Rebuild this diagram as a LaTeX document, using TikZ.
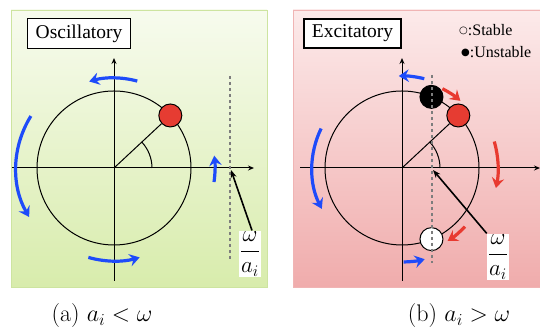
\RequirePackage{fix-cm}
\documentclass[tikz,border=0pt]{standalone}
\usepackage{amsmath}
\usepackage{fontspec}
\newfontfamily\tnr{Liberation Serif}
\newfontfamily\symf{DejaVu Sans}
\usetikzlibrary{arrows.meta}
\definecolor{flowblue}{RGB}{30,75,250}
\definecolor{flowred}{RGB}{232,58,48}
\definecolor{dotred}{RGB}{230,60,50}
\definecolor{dashgray}{RGB}{125,125,125}
\definecolor{greentop}{RGB}{247,251,238}
\definecolor{greenbot}{RGB}{216,236,172}
\definecolor{greenline}{RGB}{205,228,160}
\definecolor{pinktop}{RGB}{252,234,234}
\definecolor{pinkbot}{RGB}{240,172,172}
\definecolor{pinkline}{RGB}{240,180,180}
\tikzset{
  axis/.style = {line width=1pt, -{Stealth[length=6pt,width=5pt]}},
  flow/.style = {line width=3.2pt, -{Stealth[length=10pt,width=12.5pt,inset=3.5pt]}},
  pointer/.style = {line width=1.6pt, -{Stealth[length=8pt,width=6pt]}},
  dashline/.style = {dashgray, dashed, line width=1.5pt},
  dot/.style = {circle, draw, line width=1pt, minimum size=23pt, inner sep=0pt},
  titlebox/.style = {draw, line width=1.5pt, fill=white, inner xsep=8pt, inner ysep=6pt,
    font=\tnr\fontsize{19.5}{22}\selectfont},
  legend/.style = {anchor=west, inner sep=0pt, font=\tnr\fontsize{16}{18}\selectfont},
  fraclabel/.style = {fill=white, inner sep=1pt, font=\fontsize{23}{27}\selectfont},
  caption/.style = {font=\fontsize{24}{28}\selectfont}
}
% circle of radius 77 with axes round a centre
\newcommand{\phase}[3]{
\draw[line width=1pt] (#1) circle [radius=77pt];
\draw[axis] ([xshift=-#2pt]#1) -- ([xshift=#3pt]#1);
\draw[axis] ([yshift=-113pt]#1) -- ([yshift=110pt]#1);
\draw[line width=1pt] ([shift={(0:38pt)}]#1) arc [start angle=0, end angle=43, radius=38pt];
}
% curved arrow round a centre: colour, centre, from, to, radius
\newcommand{\flowarc}[5]{
\draw[flow, #1] ([shift={(#3:#5pt)}]#2) arc [start angle=#3, end angle=#4, radius=#5pt];
}
\newcommand{\stmark}[1]{\raisebox{1.5pt}{\symf\fontsize{10}{12}\selectfont #1}}

\begin{document}
\begin{tikzpicture}[x=1pt, y=1pt]
\useasboundingbox (0,0) rectangle (540,336);

\shadedraw[top color=greentop, bottom color=greenbot, draw=greenline] (11,49) rectangle (267,326);
\shadedraw[top color=pinktop, bottom color=pinkbot, draw=pinkline] (293,49) rectangle (549,326);

\coordinate (cl) at (114,168);
\coordinate (cr) at (402,168);

%% (a) oscillatory
\phase{cl}{102}{140}
\node[dot, fill=dotred] (rl) at ([shift={(43:77pt)}]cl) {};
\draw[line width=1pt] (cl) -- (rl);
\draw[dashline] (230,260) -- (230,76);
\coordinate (xl) at (231,166);

\flowarc{flowblue}{cl}{75}{106}{90}
\flowarc{flowblue}{cl}{148}{210}{98}
\flowarc{flowblue}{cl}{254}{286}{93}
\flowarc{flowblue}{cl}{-8}{7}{101}

\node[titlebox] (tl) at (79,302.5) {Oscillatory};
\node[fraclabel] (wl) at (250,82) {$\dfrac{\omega}{a_i}$};
\draw[pointer] ([xshift=2pt]wl.north) -- (xl);

%% (b) excitatory
\phase{cr}{102}{138}
\node[dot, fill=dotred] (rr) at ([shift={(43:77pt)}]cr) {};
\draw[line width=1pt] (cr) -- (rr);
\node[dot, fill=black] (un) at ([shift={(67.5:77pt)}]cr) {};
\node[dot, fill=white] (st) at ([shift={(-67.5:77pt)}]cr) {};
\draw[dashline] (432,261) -- (432,73);
\coordinate (xr) at (433,166);

\flowarc{flowblue}{cr}{76}{92}{92}
\flowarc{flowblue}{cr}{154}{207}{90}
\flowarc{flowblue}{cr}{271}{284}{94}
\flowarc{flowred}{cr}{63}{49}{89}
\flowarc{flowred}{cr}{16}{-12}{96}
\flowarc{flowred}{cr}{-43}{-58}{86}

\node[titlebox] (tr) at (352.5,302.5) {Excitatory};
\node[legend] (ls) at (459,306) {\stmark{○}:Stable};
\node[legend] (lu) at (461,284) {\stmark{●}:Unstable};
\node[fraclabel] (wr) at (498,79) {$\dfrac{\omega}{a_i}$};
\draw[pointer] (wr.north west) -- (xr);

%% captions
\node[caption] (capa) at (102,20) {(a) $a_i<\omega$};
\node[caption] (capb) at (459,20) {(b) $a_i>\omega$};
\end{tikzpicture}
\end{document}
